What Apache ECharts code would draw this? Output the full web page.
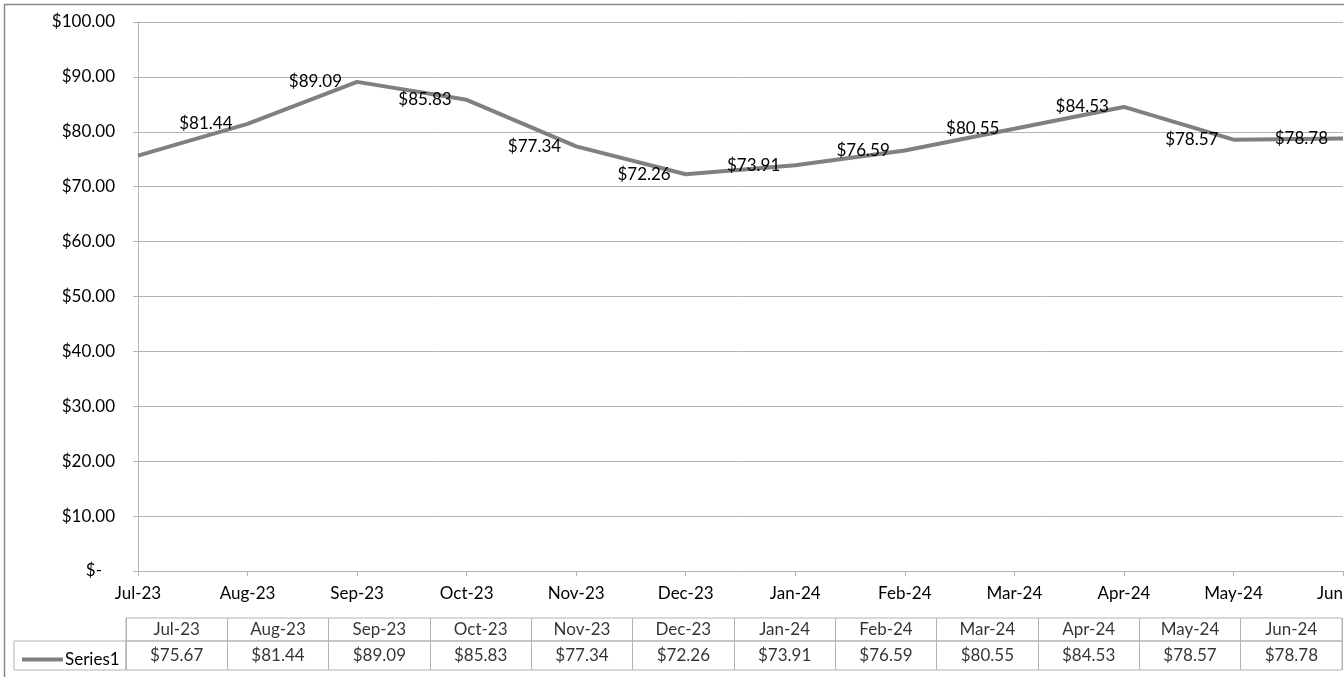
<!DOCTYPE html>
<html>
<head>
<meta charset="utf-8">
<title>Series1</title>
<script src="https://cdn.jsdelivr.net/npm/echarts@6/dist/echarts.min.js"></script>
<style>
  html, body { margin: 0; padding: 0; background: #fff; }
  #chart { width: 1344px; height: 677px; }
</style>
</head>
<body>
<div id="chart"></div>
<script>
// chart data
var months = ["Jul-23", "Aug-23", "Sep-23", "Oct-23", "Nov-23", "Dec-23",
  "Jan-24", "Feb-24", "Mar-24", "Apr-24", "May-24", "Jun-24"];
var prices = [75.67, 81.44, 89.09, 85.83, 77.34, 72.26,
  73.91, 76.59, 80.55, 84.53, 78.57, 78.78];
var seriesName = "Series1";

var fontFam = "Lato";
var fontSz = 17;
var gridGray = "#b3b3b3";
var lineGray = "#808080";

function money(v) {
  return "$" + v.toFixed(2);
}

var chart = echarts.init(document.getElementById("chart"));

// table cells, one point per cell
var headerCells = months.map(function (m, i) { return [i, 0.5]; });
var valueCells = prices.map(function (p, i) { return [i, 0.5]; });

var tableAxis = function (gridIndex) {
  return {
    type: "category",
    gridIndex: gridIndex,
    data: months,
    boundaryGap: true,
    axisLine: { show: false },
    axisTick: { show: false },
    axisLabel: { show: false },
    splitLine: { show: true, lineStyle: { color: gridGray, width: 1 } },
  };
};
var hiddenY = function (gridIndex) {
  return { type: "value", gridIndex: gridIndex, min: 0, max: 1, show: false };
};

var options = {
  animation: false,
  textStyle: { fontFamily: fontFam, color: "#000" },
  color: [lineGray],
  graphic: [
    {
      type: "rect",
      shape: { x: 4.5, y: 4.5, width: 1400, height: 700 },
      style: { fill: "none", stroke: "#888", lineWidth: 1.5 },
      silent: true,
    },
  ],
  legend: {
    data: [seriesName],
    left: 17,
    top: 646,
    icon: "rect",
    itemWidth: 41,
    itemHeight: 4,
    itemGap: 0,
    textStyle: { fontFamily: fontFam, fontSize: fontSz, color: "#000", padding: [0, 0, 0, -3] },
  },
  grid: [
    { left: 138, right: 1, top: 22, bottom: 106, outerBoundsMode: "none", containLabel: false },
    // table header row
    { left: 126, right: 2, top: 618, height: 23, show: true, borderColor: gridGray, borderWidth: 1, outerBoundsMode: "none" },
    // table value row
    { left: 126, right: 2, top: 641, height: 29, show: true, borderColor: gridGray, borderWidth: 1, outerBoundsMode: "none" },
    // legend cell
    { left: 14, width: 112, top: 641, height: 29, show: true, borderColor: gridGray, borderWidth: 1, outerBoundsMode: "none" },
  ],
  xAxis: [
    {
      type: "category",
      gridIndex: 0,
      data: months,
      boundaryGap: false,
      axisLine: { show: true, lineStyle: { color: gridGray, width: 1 } },
      axisTick: { show: true, length: 5, lineStyle: { color: gridGray } },
      axisLabel: { interval: 0, fontSize: fontSz, color: "#000", margin: 14, fontFamily: fontFam },
      splitLine: { show: false },
    },
    tableAxis(1),
    tableAxis(2),
    { type: "value", gridIndex: 3, show: false },
  ],
  yAxis: [
    {
      type: "value",
      gridIndex: 0,
      min: 0,
      max: 100,
      interval: 10,
      axisLine: { show: true, lineStyle: { color: gridGray, width: 1 } },
      axisTick: { show: true, length: 5, lineStyle: { color: gridGray } },
      axisLabel: {
        fontSize: fontSz,
        color: "#000",
        margin: 23,
        fontFamily: fontFam,
        formatter: function (v) {
          return v === 0 ? "$-   " : money(v);
        },
      },
      splitLine: { show: true, lineStyle: { color: gridGray, width: 1 } },
    },
    hiddenY(1),
    hiddenY(2),
    hiddenY(3),
  ],
  series: [
    {
      name: seriesName,
      type: "line",
      xAxisIndex: 0,
      yAxisIndex: 0,
      data: prices,
      symbol: "circle",
      symbolSize: 0.01,
      showSymbol: true,
      lineStyle: { color: lineGray, width: 4 },
      itemStyle: { color: lineGray },
      label: {
        show: true,
        position: "left",
        distance: 15,
        fontSize: fontSz,
        color: "#000",
        fontFamily: fontFam,
        formatter: function (p) {
          return p.dataIndex === 0 ? "" : money(p.value);
        },
      },
      labelLayout: { hideOverlap: false },
      z: 3,
    },
    {
      type: "scatter",
      xAxisIndex: 1,
      yAxisIndex: 1,
      data: headerCells,
      symbolSize: 1,
      itemStyle: { color: "transparent" },
      label: {
        show: true,
        position: "inside",
        fontSize: fontSz,
        color: "#000",
        fontFamily: fontFam,
        formatter: function (p) { return months[p.dataIndex]; },
      },
      silent: true,
    },
    {
      type: "scatter",
      xAxisIndex: 2,
      yAxisIndex: 2,
      data: valueCells,
      symbolSize: 1,
      itemStyle: { color: "transparent" },
      label: {
        show: true,
        position: "inside",
        fontSize: fontSz,
        color: "#000",
        fontFamily: fontFam,
        formatter: function (p) { return money(prices[p.dataIndex]); },
      },
      silent: true,
    },
  ],
};

chart.setOption(options, true);
</script>
</body>
</html>
